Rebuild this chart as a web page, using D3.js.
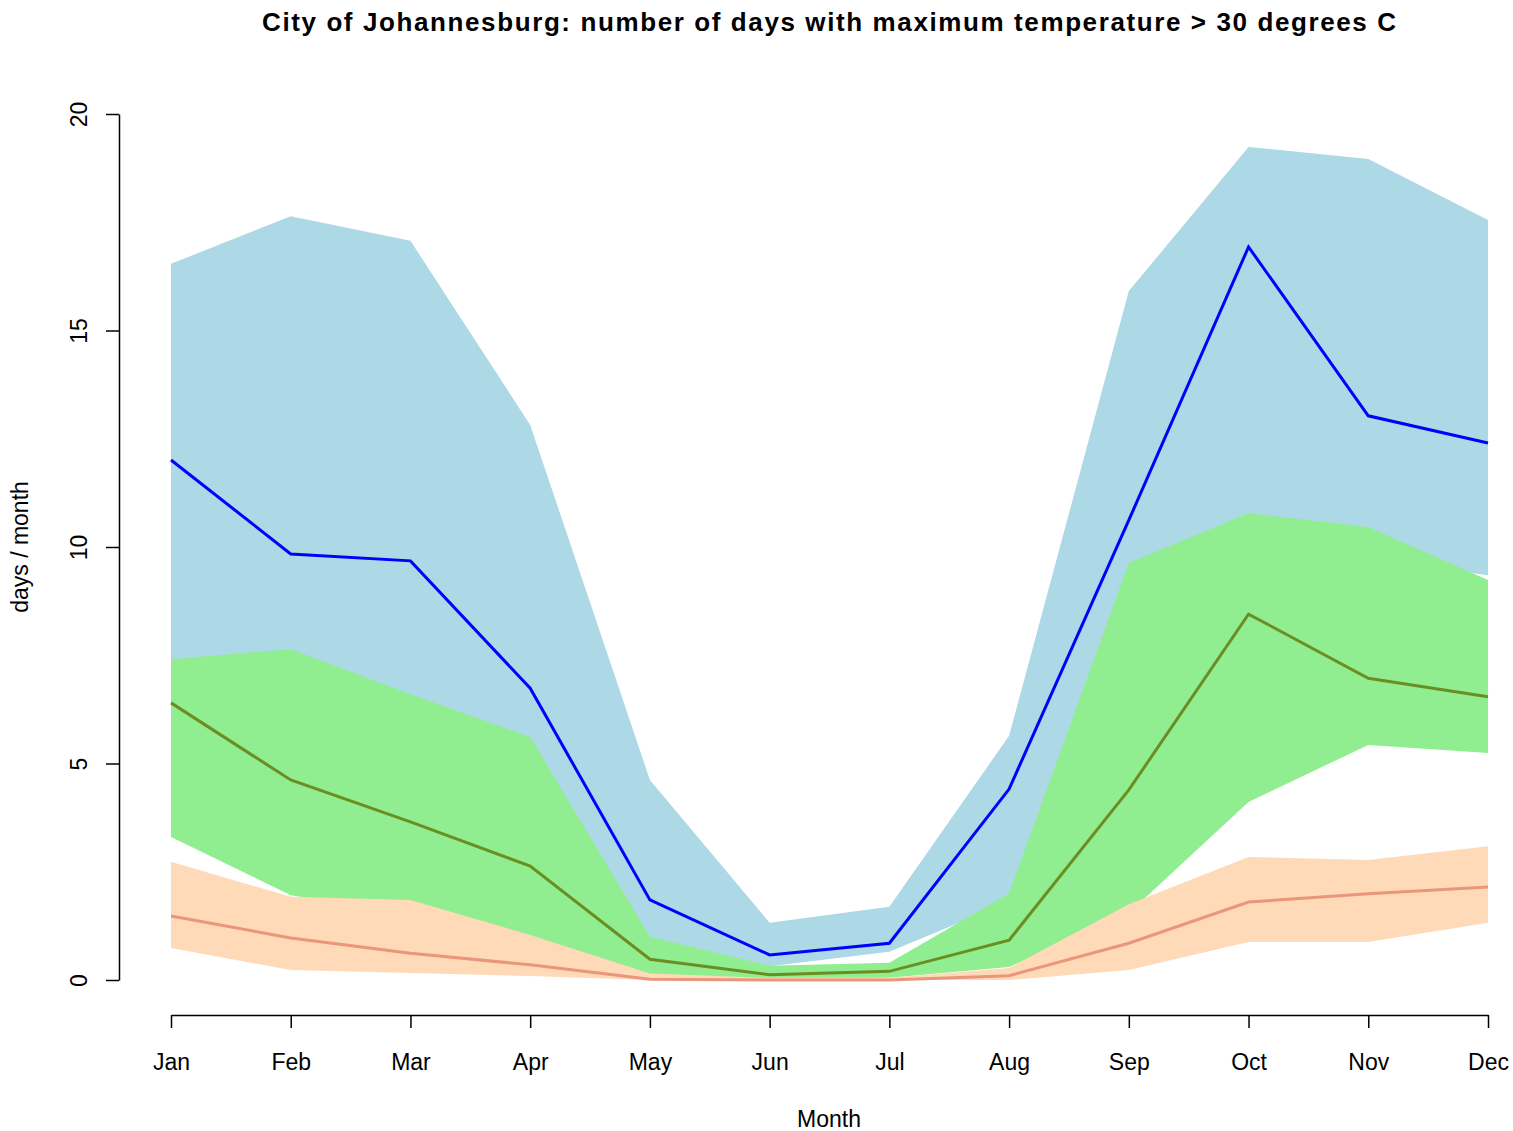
<!DOCTYPE html>
<html>
<head>
<meta charset="utf-8">
<script src="https://cdn.jsdelivr.net/npm/d3@7"></script>
<style>
    body { margin: 0; background: #fff; }
    text { font-family: "Liberation Sans", Arial, sans-serif; fill: #000; }
</style>
</head>
<body>
<script>
const width = 1513;
const height = 1131;

// month labels
const months = ["Jan", "Feb", "Mar", "Apr", "May", "Jun", "Jul", "Aug", "Sep", "Oct", "Nov", "Dec"];

// blue series: band (lo/hi) and middle line
const blueHi = [16.54, 17.64, 17.07, 12.82, 4.62, 1.32, 1.69, 5.64, 15.91, 19.24, 18.96, 17.55];
const blueMid = [12.01, 9.84, 9.68, 6.74, 1.85, 0.58, 0.85, 4.41, 10.62, 16.93, 13.03, 12.4];
const blueLo = [6.5, 6.0, 5.5, 5.0, 0.98, 0.32, 0.65, 1.8, 6.0, 8.5, 9.7, 9.35];

// green series
const greenHi = [7.41, 7.64, 6.6, 5.61, 1.0, 0.33, 0.4, 2.0, 9.63, 10.78, 10.46, 9.24];
const greenMid = [6.4, 4.62, 3.65, 2.63, 0.48, 0.12, 0.2, 0.92, 4.39, 8.45, 6.97, 6.54];
const greenLo = [3.3, 1.96, 1.5, 0.8, 0.1, 0.03, 0.05, 0.3, 1.55, 4.11, 5.43, 5.24];

// orange series
const orangeHi = [2.73, 1.92, 1.85, 1.04, 0.15, 0.05, 0.05, 0.28, 1.75, 2.84, 2.77, 3.09];
const orangeMid = [1.48, 0.97, 0.62, 0.35, 0.02, 0.0, 0.0, 0.1, 0.85, 1.8, 1.99, 2.15];
const orangeLo = [0.74, 0.23, 0.16, 0.09, 0.0, 0.0, 0.0, 0.0, 0.23, 0.88, 0.88, 1.32];

const yTicks = [0, 5, 10, 15, 20];

const svg = d3
    .select("body")
    .append("svg")
    .attr("width", width)
    .attr("height", height);

const x = d3.scaleLinear().domain([1, 12]).range([171, 1488]);
const y = d3.scaleLinear().domain([0, 20]).range([980, 114]);

// build rows for each series
function rows(lo, mid, hi) {
    return months.map((m, i) => ({ m: i + 1, lo: lo[i], mid: mid[i], hi: hi[i] }));
}

const series = [
    { data: rows(blueLo, blueMid, blueHi), band: "#add8e6", line: "#0000ff" },
    { data: rows(greenLo, greenMid, greenHi), band: "#90ee90", line: "#6b8e23" },
    { data: rows(orangeLo, orangeMid, orangeHi), band: "#ffdab9", line: "#e9967a" },
];

const area = d3.area()
    .x((d) => x(d.m))
    .y0((d) => y(d.lo))
    .y1((d) => y(d.hi));

const line = d3.line()
    .x((d) => x(d.m))
    .y((d) => y(d.mid));

// bands first, then lines on top
series.forEach((s) => {
    svg.append("path")
        .datum(s.data)
        .attr("d", area)
        .attr("fill", s.band);
});

series.forEach((s) => {
    svg.append("path")
        .datum(s.data)
        .attr("d", line)
        .attr("fill", "none")
        .attr("stroke", s.line)
        .attr("stroke-width", 3);
});

// x axis
const xAxis = svg.append("g")
    .attr("transform", "translate(0,1015)")
    .call(d3.axisBottom(x)
        .tickValues(d3.range(1, 13))
        .tickFormat((d) => months[d - 1])
        .tickSize(13)
        .tickSizeOuter(0));

xAxis.selectAll("text")
    .attr("y", 55)
    .attr("dy", 0)
    .style("font-size", "23px");

// y axis
const yAxis = svg.append("g")
    .attr("transform", "translate(119,0)")
    .call(d3.axisLeft(y)
        .tickValues(yTicks)
        .tickSize(13)
        .tickSizeOuter(0));

yAxis.selectAll("text")
    .attr("x", 0)
    .attr("dy", 0)
    .attr("text-anchor", "middle")
    .attr("transform", "translate(-32,0) rotate(-90)")
    .style("font-size", "23px");

svg.selectAll(".domain, .tick line")
    .attr("stroke", "#000")
    .attr("stroke-width", 1.5);

// titles
svg.append("text")
    .attr("x", 829)
    .attr("y", 31)
    .attr("text-anchor", "middle")
    .attr("textLength", 1134)
    .attr("lengthAdjust", "spacing")
    .style("font-size", "26px")
    .style("font-weight", "bold")
    .text("City of Johannesburg: number of days with maximum temperature > 30 degrees C");

svg.append("text")
    .attr("x", 829)
    .attr("y", 1127)
    .attr("text-anchor", "middle")
    .style("font-size", "23px")
    .text("Month");

svg.append("text")
    .attr("transform", "translate(28,547) rotate(-90)")
    .attr("text-anchor", "middle")
    .style("font-size", "23px")
    .text("days / month");
</script>
</body>
</html>
